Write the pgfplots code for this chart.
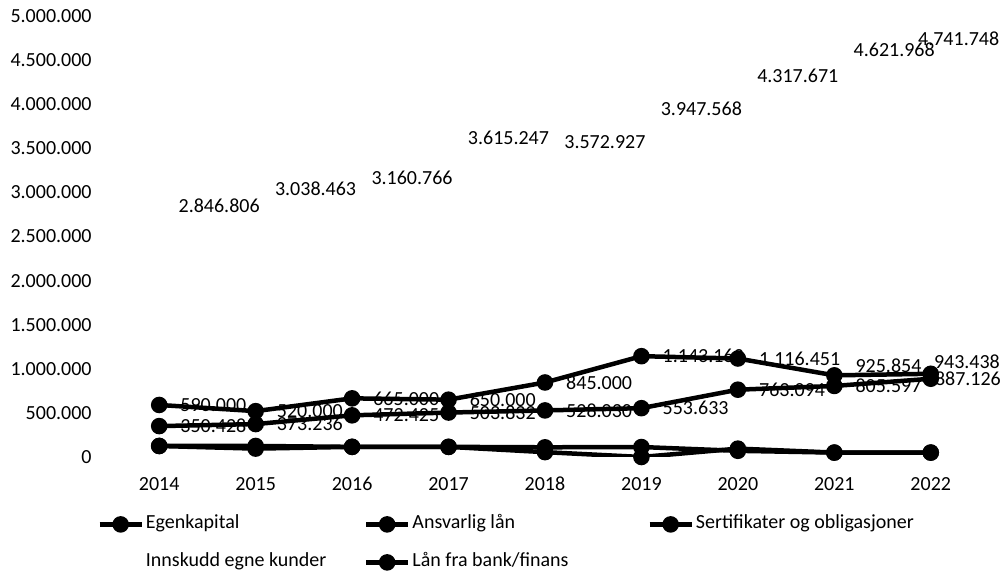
\documentclass[border=0pt]{standalone}
\usepackage{fontspec}
\setmainfont{Carlito}
\usepackage{pgfplots}
\pgfplotsset{compat=1.18}
\usepackage{pgfplotstable}

% x = year index (0 = 2014), dx/dy = label shift in pt
\pgfplotstableread{
x y dx dy
0 350428 9.5 0
1 373236 9.5 0
2 472425 9.5 0
3 503832 9.5 0
4 528030 9.5 0
5 553633 9.5 0
6 763094 9.5 0
7 805597 9.5 0
8 887126 1 0
}\egenkapital

\pgfplotstableread{
x y
0 125000
1 125000
2 115000
3 115000
4 110000
5 113000
6 70000
7 50000
8 50000
}\ansvarlig

\pgfplotstableread{
x y dx dy
0 590000 9.5 0
1 520000 9.5 0
2 665000 9.5 0
3 650000 9.5 0
4 845000 9.5 0
5 1143163 9.5 0
6 1116451 9.5 0
7 925854 9.5 5
8 943438 0.5 6
}\sertifikater

\pgfplotstableread{
x y dx dy
0 2846806 9.5 0
1 3038463 9.5 0
2 3160766 9.5 0
3 3615247 9.5 0
4 3572927 9.5 0
5 3947568 9.5 0
6 4317671 9.5 0
7 4621968 9.5 0
8 4741748 -6.5 0
}\innskudd

\pgfplotstableread{
x y
0 125000
1 95000
2 115000
3 115000
4 55000
5 0
6 95000
7 50000
8 50000
}\laanbank

\newcommand{\lcol}[2]{\makebox[#1][l]{#2}}

\begin{document}
\begin{tikzpicture}
\useasboundingbox (-55.5pt,-60.5pt) rectangle (445.5pt,228.5pt);
\begin{axis}[
  at={(0pt,0pt)}, anchor=south west,
  width=434pt, height=220.5pt, scale only axis,
  xmin=-0.5, xmax=8.5, ymin=0, ymax=5000000,
  xtick={0,1,2,3,4,5,6,7,8},
  xticklabels={2014,2015,2016,2017,2018,2019,2020,2021,2022},
  ytick={0,500000,1000000,1500000,2000000,2500000,3000000,3500000,4000000,4500000,5000000},
  scaled y ticks=false,
  /pgf/number format/assume math mode=true,
  yticklabel={\pgfmathprintnumber[fixed,precision=0,1000 sep={.}]{\tick}},
  axis line style={draw=none},
  major tick length=0pt, tick style={draw=none},
  xticklabel style={anchor=north, inner sep=0pt, yshift=-9.85pt},
  yticklabel style={anchor=east, inner sep=0pt, xshift=-9.5pt},
  ser/.style={black, line width=2.25pt, mark=*, mark size=3pt, mark options={solid, fill=black}},
  lbl/.style={
    point meta=explicit symbolic,
    visualization depends on={\thisrow{dx}\as\dx},
    visualization depends on={\thisrow{dy}\as\dy},
    nodes near coords={\pgfmathprintnumber[fixed,precision=0,1000 sep={.}]{\pgfplotspointmeta}},
    every node near coord/.append style={anchor=west, inner sep=0pt, xshift=\dx pt, yshift=\dy pt, black},
  },
  legend columns=3,
  legend cell align=left,
  legend style={at={(-0.0161,-0.1304)}, anchor=north west, draw=none, fill=none,
    inner sep=0pt, row sep=9.5pt,
    nodes={inner sep=0pt, text height=7pt, text depth=2.5pt},
    /tikz/every odd column/.append style={column sep=1pt}},
  legend image code/.code={\draw[mark repeat=2,mark phase=2,#1] plot coordinates {(0pt,0pt) (10.5pt,0pt) (21pt,0pt)};},
]
\addplot[ser, lbl] table[x=x, y=y, meta=y] {\egenkapital};
\addlegendentry{\lcol{109pt}{Egenkapital}}
\addplot[ser] table[x=x, y=y] {\ansvarlig};
\addlegendentry{\lcol{117.5pt}{Ansvarlig lån}}
\addplot[ser, lbl] table[x=x, y=y, meta=y] {\sertifikater};
\addlegendentry{Sertifikater og obligasjoner}
\addplot[lbl, draw=none, mark=none,
  legend image code/.code={\path (0pt,0pt) -- (21pt,0pt);}] table[x=x, y=y, meta=y] {\innskudd};
\addlegendentry{\lcol{109pt}{Innskudd egne kunder}}
\addplot[ser] table[x=x, y=y] {\laanbank};
\addlegendentry{\lcol{117.5pt}{Lån fra bank/finans}}
\end{axis}
\end{tikzpicture}
\end{document}
